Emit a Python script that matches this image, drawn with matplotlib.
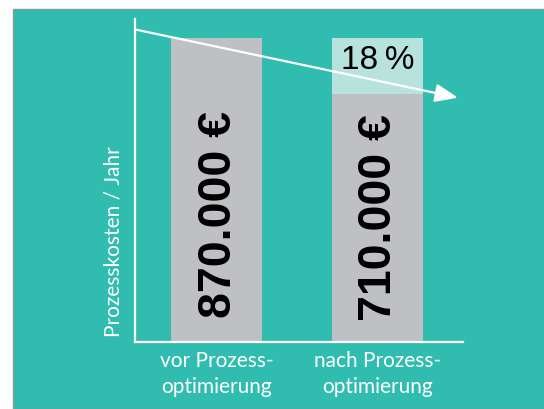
import matplotlib.pyplot as plt
from matplotlib.patches import Rectangle

# Values
categories = ['vor Prozess-\noptimierung', 'nach Prozess-\noptimierung']
costs = [870000, 710000]
value_labels = ['870.000 €', '710.000 €']
saving_label = '18\u2009%'
y_label = 'Prozesskosten / Jahr'

teal = '#31bcb0'
bar_grey = '#bec0c4'
light_teal = '#b8e2dc'
light_font = ['Lato', 'DejaVu Sans']

fig = plt.figure(figsize=(5.44, 4.09), dpi=100, facecolor='white')

# teal panel behind the chart
fig.patches.append(Rectangle((13 / 544, 0), 1, 1 - 9 / 409, transform=fig.transFigure,
                             facecolor=teal, edgecolor='#8a9896', linewidth=1, zorder=-1))

ax = fig.add_axes([135 / 544, 0.1645, (463 - 135) / 544, 0.9528 - 0.1645])
ax.set_facecolor('none')

x = [0, 1]
ax.bar(x, costs, width=0.566, color=bar_grey, zorder=2)
# saved share on top of the second bar
ax.bar(x[1], costs[0] - costs[1], bottom=costs[1], width=0.566, color=light_teal, zorder=2)

ax.set_xlim(-0.507, 1.533)
ax.set_ylim(0, 925000)

# value texts inside bars
bold_font = ['Liberation Sans', 'DejaVu Sans']
ax.text(0.015, 366000, value_labels[0], rotation=90, ha='center', va='center',
        fontsize=33.5, fontweight='bold', family=bold_font, color='black', zorder=3)
ax.text(1.012, 355000, value_labels[1], rotation=90, ha='center', va='center',
        fontsize=33.5, fontweight='bold', family=bold_font, color='black', zorder=3)
ax.text(1.004, 808000, saving_label, ha='center', va='center', fontsize=24,
        family=['Liberation Sans', 'DejaVu Sans'], color='black', zorder=3)

# downward trend arrow
ax.annotate('', xy=(1.502, 700000), xytext=(-0.507, 896000),
            arrowprops=dict(arrowstyle='-|>,head_length=0.7,head_width=0.28', mutation_scale=20,
                            color='white', lw=1.6, shrinkA=0, shrinkB=0),
            annotation_clip=False, zorder=4)

for side in ['top', 'right']:
    ax.spines[side].set_visible(False)
for side in ['left', 'bottom']:
    ax.spines[side].set_color('white')
    ax.spines[side].set_linewidth(1.6)
    ax.spines[side].set_zorder(5)

ax.set_yticks([])
ax.set_xticks(x)
ax.set_xticklabels(categories, fontsize=15, family=light_font, color='white', linespacing=1.33)
ax.tick_params(axis='x', length=0, pad=7)
ax.set_ylabel(y_label, loc='bottom', fontsize=15, family=light_font, color='white')
ax.yaxis.set_label_coords(-0.034, 0.014)

fig.savefig('out.png', dpi=100, facecolor=fig.get_facecolor())
